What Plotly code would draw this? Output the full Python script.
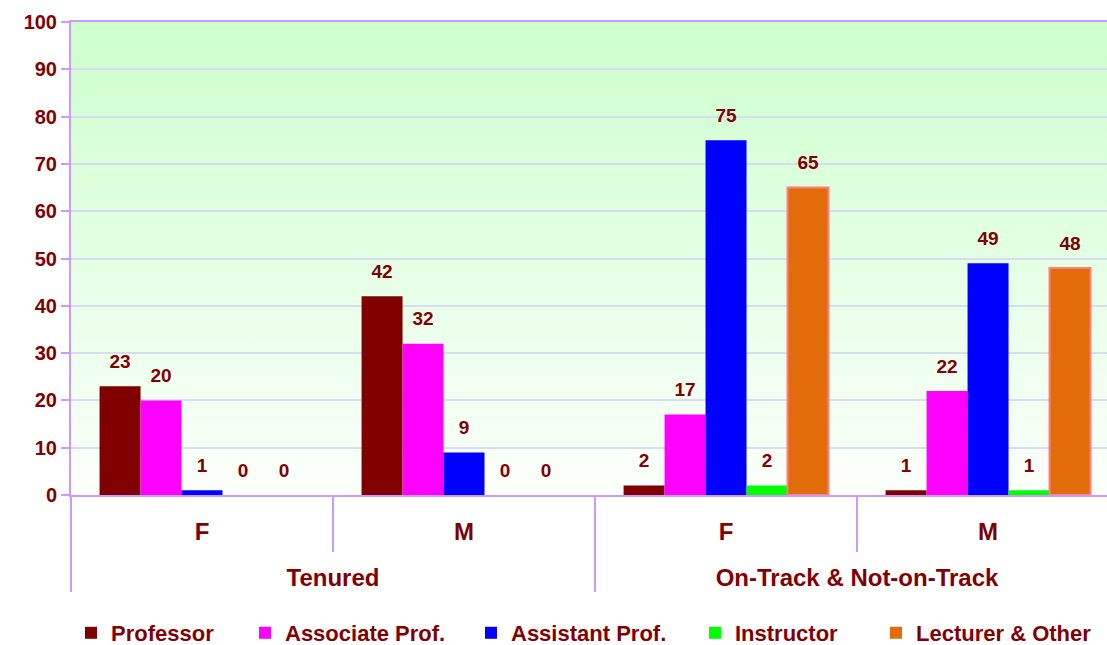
import base64

import plotly.graph_objects as go

# ── Data ──────────────────────────────────────────────────────────────────────
STATUS = ["Tenured", "Tenured", "On-Track & Not-on-Track", "On-Track & Not-on-Track"]
GENDER = ["F", "M", "F", "M"]

SERIES = ["Professor", "Associate Prof.", "Assistant Prof.", "Instructor", "Lecturer & Other"]
PROFESSOR = [23, 42, 2, 1]
ASSOCIATE = [20, 32, 17, 22]
ASSISTANT = [1, 9, 75, 49]
INSTRUCTOR = [0, 0, 2, 1]
LECTURER = [0, 0, 65, 48]

# ── Style ─────────────────────────────────────────────────────────────────────
TEXT_RED = "#800000"
LAVENDER = "#CC99FF"
GRID = "#D8DCF0"
FONT = "Arial, Liberation Sans, sans-serif"

COLOURS = ["#800000", "#FF00FF", "#0000FF", "#00FF00", "#E36C0A"]
OUTLINES = [None, None, None, None, "#FF8080"]
# left edge (px) of each legend entry, one legend per series
LEGEND_X = [71, 245, 471, 695, 876]

values = [PROFESSOR, ASSOCIATE, ASSISTANT, INSTRUCTOR, LECTURER]
# outer level gets a leading line break so it sits lower, like the original
x_cats = [[f"<br>{s}" for s in STATUS], GENDER]

fig = go.Figure()

for i, (name, vals, col, outline) in enumerate(zip(SERIES, values, COLOURS, OUTLINES)):
    fig.add_trace(go.Bar(
        x=x_cats,
        y=vals,
        name=name,
        legend="legend" if i == 0 else f"legend{i + 1}",
        marker=dict(
            color=col,
            line=dict(
                color=outline or col,
                width=[2 if (outline and v > 0) else 0 for v in vals],
            ),
        ),
    ))

# value labels, grouped the same way as the bars, lifted by a transparent marker
for name, vals in zip(SERIES, values):
    fig.add_trace(go.Scatter(
        x=x_cats,
        y=vals,
        mode="markers+text",
        text=[str(v) for v in vals],
        textposition="top center",
        textfont=dict(color=TEXT_RED, size=19, family=FONT, weight="bold"),
        marker=dict(size=20, color="rgba(0,0,0,0)"),
        showlegend=False,
        hoverinfo="skip",
        cliponaxis=False,
    ))

# plot-area gradient (light green at the top fading to white)
svg = (
    '<svg xmlns="http://www.w3.org/2000/svg" width="10" height="100" preserveAspectRatio="none">'
    '<defs><linearGradient id="g" x1="0" y1="0" x2="0" y2="1">'
    '<stop offset="0" stop-color="#CCFFCC"/><stop offset="1" stop-color="#FCFFFC"/>'
    '</linearGradient></defs><rect width="10" height="100" fill="url(#g)"/></svg>'
)
svg_uri = "data:image/svg+xml;base64," + base64.b64encode(svg.encode()).decode()

legend_font = dict(size=22, family=FONT, color=TEXT_RED, weight="bold")
legends = {}
for i, lx in enumerate(LEGEND_X):
    key = "legend" if i == 0 else f"legend{i + 1}"
    legends[key] = dict(
        orientation="h",
        xref="container",
        yref="container",
        x=lx / 1107,
        xanchor="left",
        y=12 / 645,
        yanchor="middle",
        font=legend_font,
        bgcolor="rgba(0,0,0,0)",
    )

fig.update_layout(
    width=1107,
    height=645,
    barmode="group",
    scattermode="group",
    bargap=0.218,
    bargroupgap=0,
    paper_bgcolor="white",
    plot_bgcolor="white",
    font=dict(family=FONT, color=TEXT_RED, size=18),
    margin=dict(l=71, r=0, t=22, b=150),
    images=[dict(
        source=svg_uri, xref="paper", yref="paper", x=0, y=1,
        sizex=1, sizey=1, sizing="stretch", layer="below",
        xanchor="left", yanchor="top",
    )],
    xaxis=dict(
        type="multicategory",
        range=[-0.5, 3.454],
        showline=True,
        linecolor=LAVENDER,
        linewidth=2,
        mirror=True,
        showgrid=False,
        showdividers=True,
        dividercolor=LAVENDER,
        dividerwidth=1.5,
        ticks="outside",
        ticklen=55,
        tickwidth=1.5,
        tickcolor=LAVENDER,
        ticklabelstandoff=14,
        tickfont=dict(size=24, family=FONT, color=TEXT_RED, weight="bold"),
        automargin=False,
    ),
    yaxis=dict(
        range=[0, 100],
        dtick=10,
        showline=True,
        linecolor=LAVENDER,
        linewidth=2,
        gridcolor=GRID,
        gridwidth=2,
        zeroline=False,
        ticks="outside",
        ticklen=8,
        tickcolor=LAVENDER,
        tickwidth=2,
        tickfont=dict(size=20, family=FONT, color=TEXT_RED, weight="bold"),
        automargin=False,
    ),
    **legends,
)

fig.write_html(
    "out.html",
    config={"displayModeBar": False},
    post_script="document.body.style.margin='0';",
)
